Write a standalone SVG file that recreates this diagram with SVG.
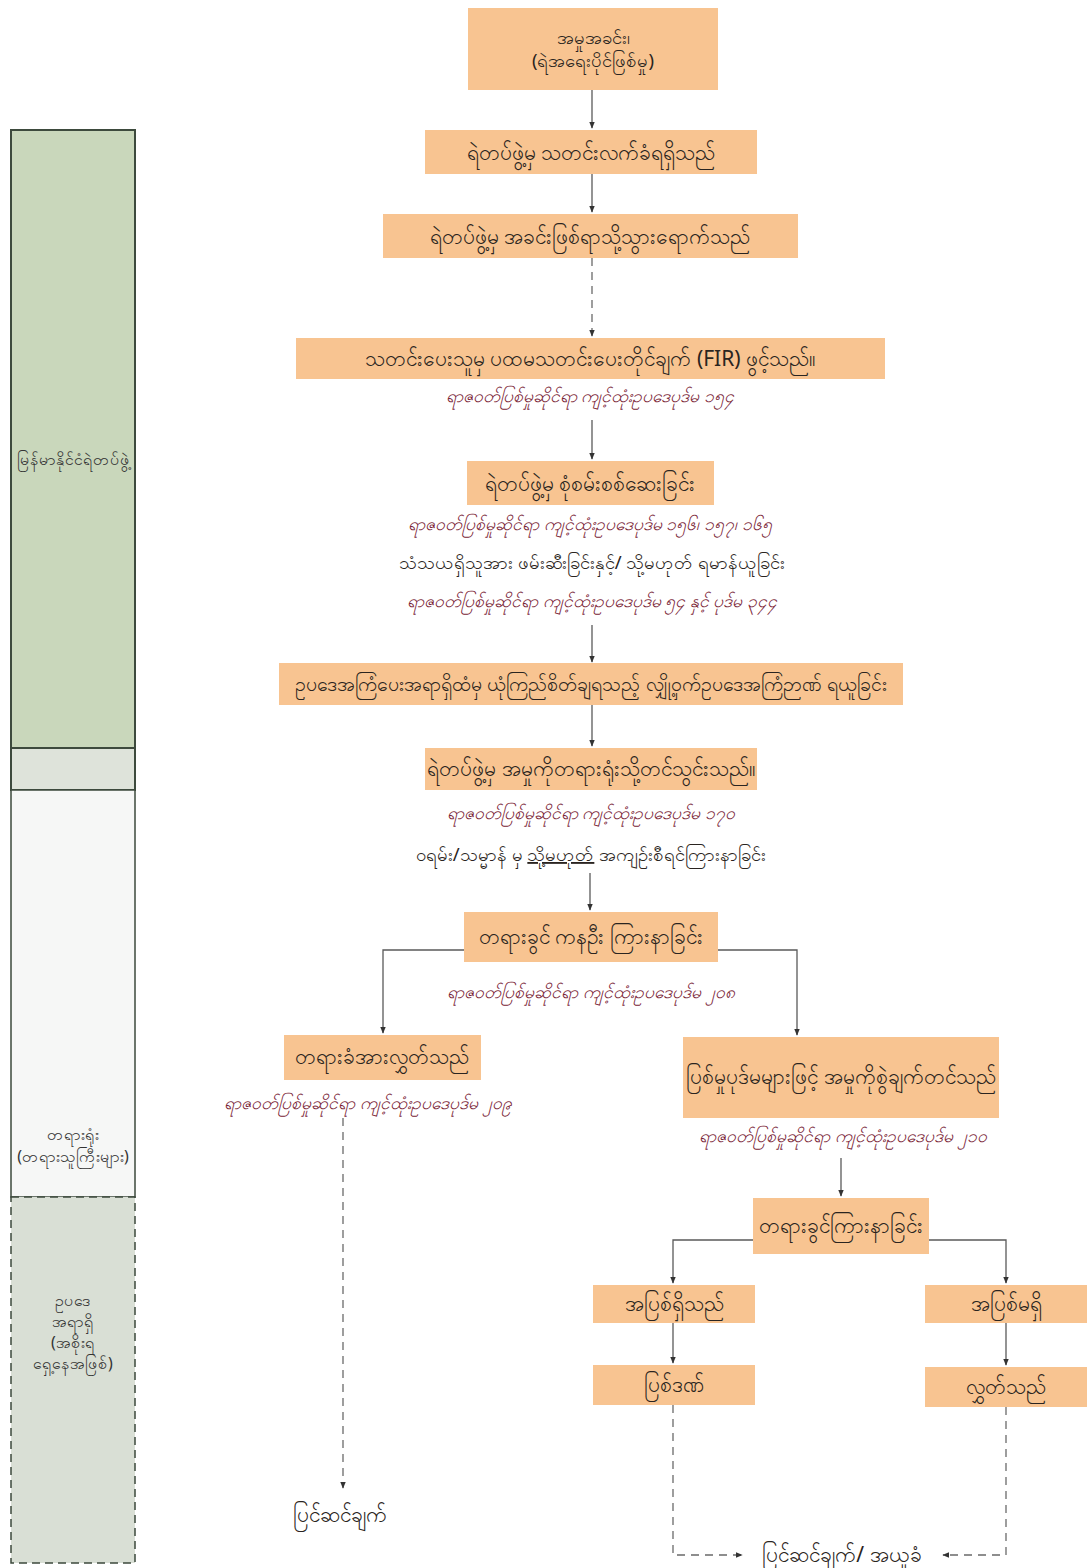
<svg xmlns="http://www.w3.org/2000/svg" width="1087" height="1568" viewBox="0 0 1087 1568">
<style>
  .box{fill:#F8C491;}
  .t{font-family:"Noto Sans","DejaVu Sans",sans-serif;font-size:21px;fill:#2a2420;text-anchor:middle;}
  .t6{font-size:19.5px;}
  .s{font-family:"Noto Sans","DejaVu Sans",sans-serif;font-size:17.5px;font-style:italic;fill:#7a2436;text-anchor:middle;}
  .p{font-family:"Noto Sans","DejaVu Sans",sans-serif;font-size:18.5px;fill:#2a2420;text-anchor:middle;}
  .side{font-family:"Noto Sans","DejaVu Sans",sans-serif;font-size:16px;fill:#333;text-anchor:middle;}
  .ln{fill:none;stroke:#5a5a5a;stroke-width:1.3;}
  .dl{fill:none;stroke:#6a6a6a;stroke-width:1.3;stroke-dasharray:8 6;}
</style>
<defs>
  <marker id="ah" viewBox="0 0 10 10" refX="9" refY="5" markerWidth="7" markerHeight="7" orient="auto" markerUnits="userSpaceOnUse">
    <path d="M0,1 L10,5 L0,9 Z" fill="#333"/>
  </marker>
</defs>
<rect width="1087" height="1568" fill="#ffffff"/>

<g id="sidebar">
  <rect x="11" y="130" width="124" height="618" fill="#C9D7BB" stroke="#3d4a3d" stroke-width="2"/>
  <text class="side" x="73" y="465">မြန်မာနိုင်ငံရဲတပ်ဖွဲ့</text>
  <rect x="11" y="748" width="124" height="42" fill="#DEE3DA" stroke="#3d4a3d" stroke-width="2"/>
  <rect x="11" y="790" width="124" height="407" fill="#F6F7F6" stroke="#3d4a3d" stroke-width="1.5"/>
  <text class="side" x="73" y="1140">တရားရုံး</text>
  <text class="side" x="73" y="1162">(တရားသူကြီးများ)</text>
  <rect x="11" y="1197" width="124" height="366" fill="#D9DFD5" stroke="#3d4a3d" stroke-width="1.5" stroke-dasharray="8 5"/>
  <text class="side" x="73" y="1306">ဥပဒေ</text>
  <text class="side" x="73" y="1327">အရာရှိ</text>
  <text class="side" x="73" y="1348">(အစိုးရ</text>
  <text class="side" x="73" y="1369">ရှေ့နေအဖြစ်)</text>
</g>

<g id="connectors">
  <line class="ln" x1="592" y1="90" x2="592" y2="128" marker-end="url(#ah)"/>
  <line class="ln" x1="592" y1="174" x2="592" y2="212" marker-end="url(#ah)"/>
  <line class="dl" x1="592" y1="258" x2="592" y2="336" marker-end="url(#ah)"/>
  <line class="ln" x1="592" y1="420" x2="592" y2="459" marker-end="url(#ah)"/>
  <line class="ln" x1="592" y1="625" x2="592" y2="662" marker-end="url(#ah)"/>
  <line class="ln" x1="592" y1="705" x2="592" y2="746" marker-end="url(#ah)"/>
  <line class="ln" x1="590" y1="873" x2="590" y2="910" marker-end="url(#ah)"/>
  <polyline class="ln" points="464,950 383,950 383,1033" marker-end="url(#ah)"/>
  <polyline class="ln" points="718,950 797,950 797,1035" marker-end="url(#ah)"/>
  <line class="dl" x1="343" y1="1118" x2="343" y2="1488" marker-end="url(#ah)"/>
  <line class="ln" x1="841" y1="1158" x2="841" y2="1196" marker-end="url(#ah)"/>
  <polyline class="ln" points="753,1240 673,1240 673,1283" marker-end="url(#ah)"/>
  <polyline class="ln" points="929,1240 1006,1240 1006,1283" marker-end="url(#ah)"/>
  <line class="ln" x1="673" y1="1323" x2="673" y2="1363" marker-end="url(#ah)"/>
  <line class="ln" x1="1006" y1="1323" x2="1006" y2="1365" marker-end="url(#ah)"/>
  <polyline class="dl" points="673,1405 673,1555 742,1555" marker-end="url(#ah)"/>
  <polyline class="dl" points="1006,1407 1006,1555 943,1555" marker-end="url(#ah)"/>
</g>

<g id="n1"><rect class="box" x="468" y="8" width="250" height="82"/>
  <text class="p" x="593" y="44">အမှုအခင်း၊</text>
  <text class="p" x="593" y="67">(ရဲအရေးပိုင်ဖြစ်မှု)</text></g>
<g id="n2"><rect class="box" x="425" y="130" width="332" height="44"/>
  <text class="t" x="591" y="160">ရဲတပ်ဖွဲ့မှ သတင်းလက်ခံရရှိသည်</text></g>
<g id="n3"><rect class="box" x="383" y="214" width="415" height="44"/>
  <text class="t" x="590" y="244">ရဲတပ်ဖွဲ့မှ အခင်းဖြစ်ရာသို့သွားရောက်သည်</text></g>
<g id="n4"><rect class="box" x="296" y="338" width="589" height="41"/>
  <text class="t" x="590" y="366">သတင်းပေးသူမှ ပထမသတင်းပေးတိုင်ချက် (FIR) ဖွင့်သည်။</text>
  <text class="s" x="590" y="402">ရာဇဝတ်ပြစ်မှုဆိုင်ရာ  ကျင့်ထုံးဥပဒေပုဒ်မ  ၁၅၄</text></g>
<g id="n5"><rect class="box" x="467" y="461" width="247" height="44"/>
  <text class="t" x="590" y="491">ရဲတပ်ဖွဲ့မှ စုံစမ်းစစ်ဆေးခြင်း</text>
  <text class="s" x="590" y="530">ရာဇဝတ်ပြစ်မှုဆိုင်ရာ ကျင့်ထုံးဥပဒေပုဒ်မ ၁၅၆၊ ၁၅၇၊ ၁၆၅</text>
  <text class="p" x="592" y="569">သံသယရှိသူအား ဖမ်းဆီးခြင်းနှင့်/ သို့မဟုတ် ရမာန်ယူခြင်း</text>
  <text class="s" x="592" y="607">ရာဇဝတ်ပြစ်မှုဆိုင်ရာ ကျင့်ထုံးဥပဒေပုဒ်မ ၅၄ နှင့် ပုဒ်မ ၃၄၄</text></g>
<g id="n6"><rect class="box" x="279" y="663" width="624" height="42"/>
  <text class="t t6" x="591" y="691">ဥပဒေအကြံပေးအရာရှိထံမှ ယုံကြည်စိတ်ချရသည့် လျှို့ဝှက်ဥပဒေအကြံဉာဏ် ရယူခြင်း</text></g>
<g id="n7"><rect class="box" x="425" y="748" width="332" height="42"/>
  <text class="t" x="591" y="776">ရဲတပ်ဖွဲ့မှ အမှုကိုတရားရုံးသို့တင်သွင်းသည်။</text>
  <text class="s" x="591" y="819">ရာဇဝတ်ပြစ်မှုဆိုင်ရာ ကျင့်ထုံးဥပဒေပုဒ်မ ၁၇၀</text>
  <text class="p" x="591" y="861">ဝရမ်း/သမ္မာန် မှ <tspan text-decoration="underline">သို့မဟုတ်</tspan> အကျဉ်းစီရင်ကြားနာခြင်း</text></g>
<g id="n8"><rect class="box" x="464" y="912" width="254" height="50"/>
  <text class="t" x="591" y="944">တရားခွင် ကနဦး ကြားနာခြင်း</text>
  <text class="s" x="591" y="998">ရာဇဝတ်ပြစ်မှုဆိုင်ရာ ကျင့်ထုံးဥပဒေပုဒ်မ ၂၀၈</text></g>
<g id="n9"><rect class="box" x="284" y="1035" width="197" height="45"/>
  <text class="t" x="382" y="1064">တရားခံအားလွှတ်သည်</text>
  <text class="s" x="368" y="1109">ရာဇဝတ်ပြစ်မှုဆိုင်ရာ ကျင့်ထုံးဥပဒေပုဒ်မ ၂၀၉</text></g>
<g id="n10"><rect class="box" x="683" y="1037" width="316" height="81"/>
  <text class="t" x="841" y="1084">ပြစ်မှုပုဒ်မများဖြင့် အမှုကိုစွဲချက်တင်သည်</text>
  <text class="s" x="843" y="1142">ရာဇဝတ်ပြစ်မှုဆိုင်ရာ ကျင့်ထုံးဥပဒေပုဒ်မ ၂၁၀</text></g>
<g id="n11"><rect class="box" x="753" y="1198" width="176" height="56"/>
  <text class="t" x="841" y="1233">တရားခွင်ကြားနာခြင်း</text></g>
<g id="n12"><rect class="box" x="593" y="1285" width="162" height="38"/>
  <text class="t" x="674" y="1311">အပြစ်ရှိသည်</text></g>
<g id="n13"><rect class="box" x="925" y="1285" width="162" height="38"/>
  <text class="t" x="1006" y="1311">အပြစ်မရှိ</text></g>
<g id="n14"><rect class="box" x="593" y="1365" width="162" height="40"/>
  <text class="t" x="674" y="1392">ပြစ်ဒဏ်</text></g>
<g id="n15"><rect class="box" x="925" y="1367" width="162" height="40"/>
  <text class="t" x="1006" y="1394">လွှတ်သည်</text></g>
<g id="n16"><text class="t" x="340" y="1522">ပြင်ဆင်ချက်</text></g>
<g id="n17"><text class="t" x="842" y="1562">ပြင်ဆင်ချက်/ အယူခံ</text></g>
</svg>
